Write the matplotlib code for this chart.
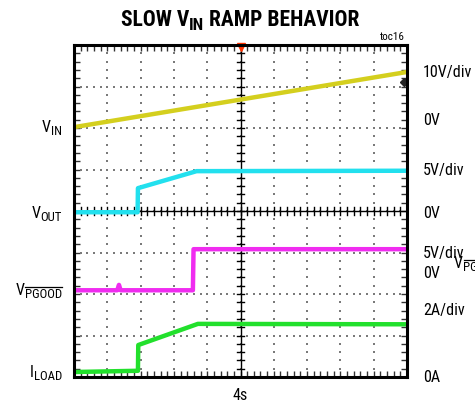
import os
import matplotlib
matplotlib.use('Agg')
import matplotlib.pyplot as plt
from matplotlib import font_manager
from matplotlib.font_manager import FontProperties
from matplotlib.transforms import IdentityTransform
from matplotlib.lines import Line2D
import numpy as np

# buscar una fuente estrecha (condensada) instalada
archivos = {os.path.basename(f.fname): f.fname for f in font_manager.fontManager.ttflist}
preferidas = [
    ('LiberationSansNarrow-Regular.ttf', 'LiberationSansNarrow-Bold.ttf'),
    ('RobotoCondensed-Regular.ttf', 'RobotoCondensed-Bold.ttf'),
    ('OpenSans_Condensed-Regular.ttf', 'OpenSans_Condensed-Bold.ttf'),
    ('OpenSans-CondensedRegular.ttf', 'OpenSans-CondensedBold.ttf'),
    ('DejaVuSansCondensed.ttf', 'DejaVuSansCondensed-Bold.ttf'),
]
fp_reg = FontProperties(family='Liberation Sans')
fp_bold = FontProperties(family='Liberation Sans', weight='bold')
for reg, bold in preferidas:
    if reg in archivos and bold in archivos:
        fp_reg = FontProperties(fname=archivos[reg])
        fp_bold = FontProperties(fname=archivos[bold])
        break

# datos de las trazas (divisiones)
vin_t = [0.0, 10.0]
vin_y = [6.02, 7.35]

vout_t = [0.0, 1.91, 1.92, 3.68, 10.0]
vout_y = [3.97, 3.97, 4.55, 4.96, 4.97]

pg_t = [0.0, 1.30, 1.35, 1.40, 3.57, 3.59, 10.0]
pg_y = [2.09, 2.09, 2.22, 2.09, 2.09, 3.08, 3.08]

il_t = [0.0, 1.92, 1.93, 3.72, 10.0]
il_y = [0.12, 0.15, 0.77, 1.28, 1.27]

etiquetas_izq = [('V', 'IN', False), ('V', 'OUT', False),
                 ('V', 'PGOOD', True), ('I', 'LOAD', False)]
pos_izq = [127, 213, 290, 372]
etiquetas_der = ['10V/div', '0V', '5V/div', '0V', '5V/div', '0V', '2A/div', '0A']
pos_der = [72, 120, 170, 213, 253, 273, 310, 377]

W, H = 475, 404
fig = plt.figure(figsize=(4.75, 4.04), dpi=100)
ax = fig.add_axes([74 / W, 1 - 377 / H, 333 / W, 332 / H])
ax.set_xlim(0, 10)
ax.set_ylim(0, 8)
rend = fig.canvas.get_renderer()


def poner(piezas, x, y, ha, size, fp):
    # piezas: lista de (texto, es_sub, con_raya); x,y en pixeles desde arriba-izq (linea base)
    objs = []
    for txt, sub, raya in piezas:
        s = size * 0.8 if sub else size
        yy = H - y - (size * 0.25 if sub else 0)
        t = fig.text(0, yy, txt, transform=IdentityTransform(), fontproperties=fp,
                     fontsize=s, va='baseline', ha='left')
        objs.append((t, raya))
    anchos = [t.get_window_extent(rend).width for t, _ in objs]
    total = sum(anchos)
    x0 = x - total if ha == 'right' else (x - total / 2 if ha == 'center' else x)
    for (t, raya), w in zip(objs, anchos):
        t.set_x(x0)
        if raya:
            bb = t.get_window_extent(rend)
            fig.add_artist(Line2D([x0 + 0.5, x0 + w - 0.5], [bb.y1 + 0.5, bb.y1 + 0.5],
                                  transform=IdentityTransform(), color='black', lw=0.9))
        x0 += w


# rejilla punteada
pts = np.arange(0, 10.01, 0.2)
ptsy = np.arange(0, 8.01, 0.2)
for i in range(1, 8):
    ax.plot(pts, [i] * len(pts), ls='none', marker='s', ms=1.6, mew=0, color='#7a7a7a')
for j in range(1, 10):
    ax.plot([j] * len(ptsy), ptsy, ls='none', marker='s', ms=1.6, mew=0, color='#7a7a7a')

# ejes centrales con marcas
ax.axhline(4, color='black', lw=1.0)
ax.axvline(5, color='black', lw=1.0)
for x in pts:
    ax.plot([x, x], [3.91, 4.09], color='black', lw=1.0)
for y in ptsy:
    ax.plot([4.88, 5.12], [y, y], color='black', lw=1.0)

ax.set_xticks(pts)
ax.set_yticks(ptsy)
ax.tick_params(which='both', direction='in', length=4, width=1.0, color='#333333',
               top=True, right=True, labelleft=False, labelbottom=False)
for s in ax.spines.values():
    s.set_linewidth(2.2)

# trazas
ax.plot(vin_t, vin_y, color='#d4cf1e', lw=3.2, solid_capstyle='butt')
ax.plot(vout_t, vout_y, color='#22e0ee', lw=3.2, solid_capstyle='butt')
ax.plot(pg_t, pg_y, color='#f02cf0', lw=3.2, solid_capstyle='butt')
ax.plot(il_t, il_y, color='#22e02c', lw=3.2, solid_capstyle='butt')

# marcadores del osciloscopio
ax.plot([5], [7.96], marker='v', ms=6, color='#ff3300', clip_on=False)
ax.plot([9.92], [7.1], marker='D', ms=4, color='#222222', clip_on=False)

size = 11.5
for (b, sb, raya), y in zip(etiquetas_izq, pos_izq):
    poner([(b, False, False), (sb, True, raya)], 62, y + 5, 'right', size, fp_reg)
for t, y in zip(etiquetas_der, pos_der):
    poner([(t, False, False)], 423, y + 5, 'left', size, fp_reg)
poner([('V', False, False), ('PGOOD', True, True)], 454, 268, 'left', size, fp_reg)

poner([('4s', False, False)], 240, 400, 'center', size, fp_reg)
poner([('toc16', False, False)], 405, 40, 'right', 8, fp_reg)
poner([('SLOW V', False, False), ('IN', True, False), (' RAMP BEHAVIOR', False, False)],
      240, 26, 'center', 15.5, fp_bold)

fig.savefig('out.png', dpi=100)
